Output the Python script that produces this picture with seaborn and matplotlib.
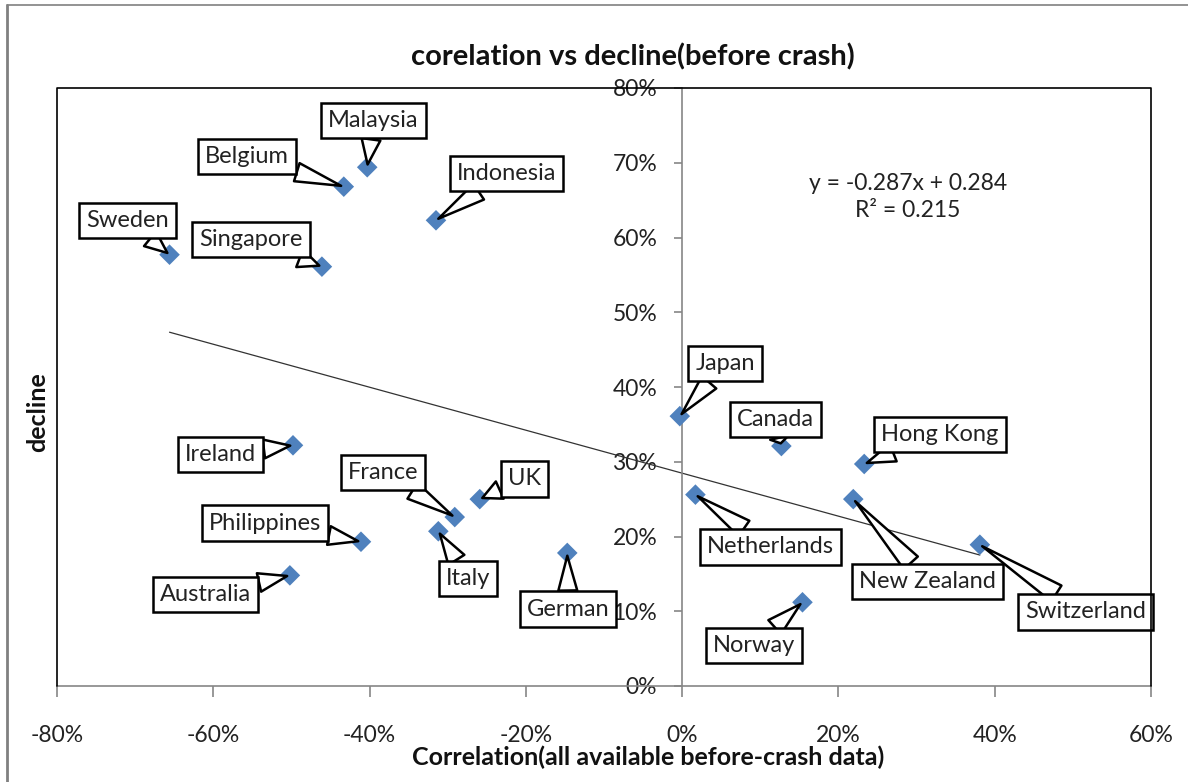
import numpy as np
import pandas as pd
import matplotlib
matplotlib.use("Agg")
import matplotlib.pyplot as plt
from matplotlib.lines import Line2D
from matplotlib.ticker import PercentFormatter
import seaborn as sns

countries = ["Sweden", "Singapore", "Belgium", "Malaysia", "Indonesia", "Ireland",
             "France", "UK", "Italy", "Philippines", "Australia", "German", "Japan",
             "Canada", "Hong Kong", "Netherlands", "New Zealand", "Switzerland", "Norway"]
correlation = [-0.656, -0.461, -0.433, -0.403, -0.315, -0.498, -0.291, -0.259, -0.312,
               -0.411, -0.502, -0.147, -0.003, 0.127, 0.233, 0.017, 0.219, 0.381, 0.154]
decline = [0.577, 0.561, 0.668, 0.694, 0.623, 0.322, 0.226, 0.250, 0.207,
           0.193, 0.148, 0.178, 0.361, 0.321, 0.297, 0.256, 0.250, 0.189, 0.112]

x_ticks = [-0.8, -0.6, -0.4, -0.2, 0.0, 0.2, 0.4, 0.6]
y_ticks = [0.0, 0.1, 0.2, 0.3, 0.4, 0.5, 0.6, 0.7, 0.8]

# where each callout box sits (data coords)
label_pos = {
    "Malaysia": (-0.395, 0.756), "Belgium": (-0.557, 0.708), "Indonesia": (-0.225, 0.686),
    "Sweden": (-0.710, 0.623), "Singapore": (-0.552, 0.597), "Japan": (0.055, 0.431),
    "Canada": (0.119, 0.357), "Hong Kong": (0.330, 0.337), "Ireland": (-0.591, 0.310),
    "France": (-0.383, 0.286), "UK": (-0.202, 0.277), "Philippines": (-0.534, 0.218),
    "Italy": (-0.274, 0.144), "Australia": (-0.610, 0.122), "German": (-0.146, 0.103),
    "Netherlands": (0.113, 0.186), "New Zealand": (0.314, 0.140),
    "Switzerland": (0.516, 0.099), "Norway": (0.092, 0.054),
}

df = pd.DataFrame({"country": countries, "corr": correlation, "decline": decline})

sns.set_style("white")
plt.rcParams["font.family"] = ["Lato", "DejaVu Sans"]
plt.rcParams["axes.unicode_minus"] = False

fig = plt.figure(figsize=(11.88, 7.82), dpi=100)
ax = fig.add_axes([57 / 1188, 1 - 686 / 782, (1151 - 57) / 1188, (686 - 88) / 782])

sns.regplot(data=df, x="corr", y="decline", scatter=False, ci=None, ax=ax,
            line_kws=dict(color="#333333", lw=0.9))
sns.scatterplot(data=df, x="corr", y="decline", marker="D", s=110, color="#4F81BD",
                edgecolor="none", ax=ax, zorder=3)

for _, r in df.iterrows():
    ax.annotate(r["country"], xy=(r["corr"], r["decline"]), xytext=label_pos[r["country"]],
                ha="center", va="center", fontsize=17, color="#222222", zorder=4,
                bbox=dict(boxstyle="square,pad=0.3", fc="white", ec="black", lw=1.8),
                arrowprops=dict(arrowstyle="wedge,tail_width=0.8,shrink_factor=0.5",
                                fc="white", ec="black", lw=1.8, shrinkA=0, shrinkB=2))

ax.set_xlim(-0.8, 0.6)
ax.set_ylim(0, 0.8)
ax.set_xticks(x_ticks)
ax.set_yticks(y_ticks)
ax.xaxis.set_major_formatter(PercentFormatter(1.0, decimals=0))
ax.yaxis.set_major_formatter(PercentFormatter(1.0, decimals=0))
ax.set_xlabel("")
ax.set_ylabel("")

ax.spines["left"].set_position(("data", 0))
for s in ["left", "bottom"]:
    ax.spines[s].set_color("#868686")
    ax.spines[s].set_linewidth(1.2)
ax.spines["top"].set_visible(False)
ax.spines["right"].set_visible(False)
# plot area border
ax.plot([0, 0, 1, 1], [0, 1, 1, 0], transform=ax.transAxes, color="black", lw=1.2,
        clip_on=False, zorder=5)

ax.tick_params(axis="x", direction="out", length=8, width=1.2, color="#868686",
               labelsize=16.5, pad=20, labelcolor="#222222", bottom=True)
ax.tick_params(axis="y", direction="out", length=6, width=1.2, color="#868686",
               labelsize=16.5, pad=12, labelcolor="#222222", left=True)

ax.text(0.289, 0.654, "y = -0.287x + 0.284\nR² = 0.215", ha="center", va="center",
        fontsize=16.5, color="#222222", linespacing=1.35)

fig.text(633 / 1188, 1 - 57 / 782, "corelation vs decline(before crash)", ha="center",
         va="center", fontsize=21, fontweight="bold", color="#111111")
fig.text(648 / 1188, 1 - 757 / 782, "Correlation(all available before-crash data)",
         ha="center", va="center", fontsize=18, fontweight="bold", color="#111111")
fig.text(38 / 1188, 1 - 412 / 782, "decline", ha="center", va="center", rotation=90,
         fontsize=18, fontweight="bold", color="#111111")

# outer chart frame
fig.add_artist(Line2D([7 / 1188, 7 / 1188], [0, 1 - 5 / 782], color="#808080", lw=2))
fig.add_artist(Line2D([7 / 1188, 1], [1 - 5 / 782, 1 - 5 / 782], color="#808080", lw=1.2))

fig.savefig("out.png", dpi=100)
